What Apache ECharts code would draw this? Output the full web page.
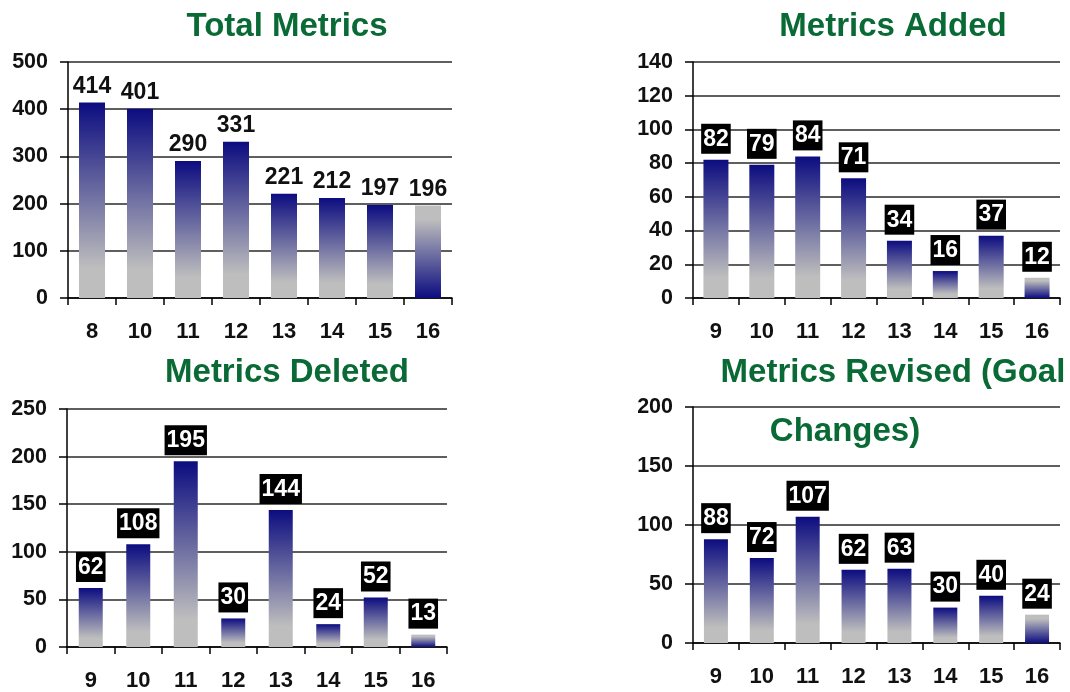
<!DOCTYPE html>
<html>
<head>
<meta charset="utf-8">
<style>html,body{margin:0;padding:0;background:#fff;}#c{width:1070px;height:692px;}</style>
<script src="https://cdn.jsdelivr.net/npm/echarts@6/dist/echarts.min.js"></script>
</head>
<body>
<div id="c"></div>
<script>
// ---- data ----
var totalCategories = ['8','10','11','12','13','14','15','16'];
var totalValues = [414,401,290,331,221,212,197,196];
var weekCategories = ['9','10','11','12','13','14','15','16'];
var addedValues = [82,79,84,71,34,16,37,12];
var deletedValues = [62,108,195,30,144,24,52,13];
var revisedValues = [88,72,107,62,63,30,40,24];
var titles = ['Total Metrics','Metrics Added','Metrics Deleted','Metrics Revised (Goal','Changes)'];

// ---- styles ----
var FONT = '"Liberation Sans", Arial, sans-serif';
var NAVY = '#0c0c80', GRAY = '#bebebe';
function grad(rev){
  return new echarts.graphic.LinearGradient(0,0,0,1, rev ?
    [{offset:0,color:GRAY},{offset:0.15,color:GRAY},{offset:1,color:NAVY}] :
    [{offset:0,color:NAVY},{offset:0.85,color:GRAY},{offset:1,color:GRAY}]);
}
function barData(vals){
  return vals.map(function(v,i){
    return {value:v, itemStyle:{color:grad(i===vals.length-1)}};
  });
}
var grids = [
  {left:68, right:618, top:62, bottom:394},
  {left:693, right:10, top:62, bottom:394},
  {left:67, right:623, top:409, bottom:45},
  {left:693, right:10, top:407, bottom:49}
];
var yMax = [500,140,250,200], yInt = [100,20,50,50];
var barW = [26,25,24,24];
var cats = [totalCategories, weekCategories, weekCategories, weekCategories];
var vals = [totalValues, addedValues, deletedValues, revisedValues];

var xAxes = [], yAxes = [], series = [];
for (var i=0;i<4;i++){
  xAxes.push({type:'category', gridIndex:i, data:cats[i], boundaryGap:true,
    axisLine:{show:true, lineStyle:{color:'#000', width:1.5}},
    axisTick:{show:true, length:7, interval:0, lineStyle:{color:'#000', width:1.5}},
    axisLabel:{margin:23, interval:0, color:'#111', fontSize:22, fontWeight:'bold', fontFamily:FONT},
    splitLine:{show:false}});
  yAxes.push({type:'value', gridIndex:i, min:0, max:yMax[i], interval:yInt[i],
    axisLine:{show:true, lineStyle:{color:'#000', width:1.5}},
    axisTick:{show:true, length:8, lineStyle:{color:'#000', width:1.5}},
    axisLabel:{margin:20, color:'#111', fontSize:21.5, fontWeight:'bold', fontFamily:FONT},
    splitLine:{show:true, lineStyle:{color:'#2a2a2a', width:1.5}}});
  var boxed = i>0;
  series.push({type:'bar', xAxisIndex:i, yAxisIndex:i, barWidth:barW[i],
    data:barData(vals[i]),
    label:{show:true, position:'top', distance: boxed?6:5,
      color: boxed?'#fff':'#111', fontSize:23, fontWeight:'bold', fontFamily:FONT,
      backgroundColor: boxed?'#000':'transparent',
      padding: boxed?[4,2,3,2]:0, lineHeight: boxed?23:22}});
}

var titlePos = [[287,27],[893,27],[287,373],[893,373],[845,432]];
var graphics = titles.map(function(t,k){
  return {type:'text', x:titlePos[k][0], y:titlePos[k][1], z:100,
    style:{text:t, fill:'#0a6a35', font:'bold 33px '+FONT, textAlign:'center', textVerticalAlign:'middle'}};
});

var chart = echarts.init(document.getElementById('c'), null, {renderer:'canvas'});
chart.setOption({
  animation:false,
  backgroundColor:'#fff',
  grid:grids, xAxis:xAxes, yAxis:yAxes, series:series,
  graphic:graphics
});
</script>
</body>
</html>
